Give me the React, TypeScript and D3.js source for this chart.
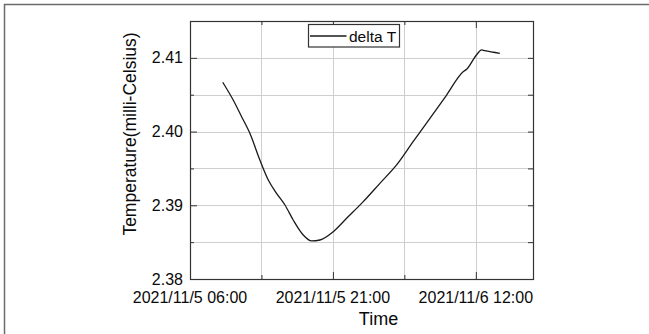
import React, { useRef, useEffect } from 'react';
import * as d3 from 'd3';

// sampled readings of delta T (milli-Celsius)
const times = [
  '2021/11/5 09:26', '2021/11/5 10:32', '2021/11/5 11:25', '2021/11/5 12:17',
  '2021/11/5 13:20', '2021/11/5 14:13', '2021/11/5 15:05', '2021/11/5 15:58',
  '2021/11/5 16:50', '2021/11/5 17:53', '2021/11/5 18:46', '2021/11/5 19:38',
  '2021/11/5 21:02', '2021/11/5 22:26', '2021/11/6 00:11', '2021/11/6 01:56',
  '2021/11/6 03:41', '2021/11/6 05:25', '2021/11/6 07:11', '2021/11/6 08:56',
  '2021/11/6 10:40', '2021/11/6 11:02', '2021/11/6 12:04', '2021/11/6 12:36',
  '2021/11/6 12:56', '2021/11/6 14:31',
];
const deltaT = [
  2.40669, 2.40428, 2.40202, 2.39977,
  2.39614, 2.39343, 2.39163, 2.39004,
  2.38800, 2.38597, 2.38516, 2.38529,
  2.38642, 2.38823, 2.39049, 2.39298,
  2.39547, 2.39863, 2.40180, 2.40496,
  2.40812, 2.40845, 2.41039, 2.41107,
  2.41097, 2.41062,
];

const xTickLabels = ['2021/11/5 06:00', '2021/11/5 21:00', '2021/11/6 12:00'];
const xMinorLabels = ['2021/11/5 13:30', '2021/11/6 04:30'];
const xLimits = ['2021/11/5 06:00', '2021/11/6 18:00'];
const yTicks = [2.38, 2.39, 2.40, 2.41];
const yMinorTicks = [2.385, 2.395, 2.405];
const yLimits = [2.38, 2.415];

const seriesName = 'delta T';
const xTitle = 'Time';
const yTitle = 'Temperature(milli-Celsius)';

const parse = d3.timeParse('%Y/%m/%d %H:%M');

const App = () => {
  const svgRef = useRef<SVGSVGElement>(null);

  useEffect(() => {
    const width = 649;
    const height = 334;
    const margin = { top: 21, right: 116, bottom: 55, left: 190 };
    const innerW = width - margin.left - margin.right;
    const innerH = height - margin.top - margin.bottom;
    const font = 'Arial, "Liberation Sans", sans-serif';
    const ink = '#0a0a0a';

    const root = d3.select(svgRef.current);
    root.selectAll('*').remove();

    // outer frame (top + left edges only)
    root.append('path')
      .attr('d', `M4.5,${height} V4.5 H${width}`)
      .attr('fill', 'none')
      .attr('stroke', '#6b6b6b')
      .attr('stroke-width', 1.5);

    const svg = root.append('g').attr('transform', `translate(${margin.left},${margin.top})`);

    const data = times.map((t, i) => ({ date: parse(t) as Date, value: deltaT[i] }));

    const x = d3.scaleTime()
      .domain(xLimits.map(t => parse(t) as Date))
      .range([0, innerW]);
    const y = d3.scaleLinear().domain(yLimits).range([innerH, 0]);

    const xMajor = xTickLabels.map(t => parse(t) as Date);
    const xMinor = xMinorLabels.map(t => parse(t) as Date);

    // grid
    const grid = svg.append('g').attr('stroke', '#cfcfcf').attr('stroke-width', 1);
    [...xMajor, ...xMinor].forEach(d => {
      const px = Math.round(x(d)) + 0.5;
      if (px > 1 && px < innerW - 1) {
        grid.append('line').attr('x1', px).attr('x2', px).attr('y1', 0).attr('y2', innerH);
      }
    });
    [...yTicks, ...yMinorTicks].forEach(v => {
      const py = Math.round(y(v)) + 0.5;
      if (py > 1 && py < innerH - 1) {
        grid.append('line').attr('x1', 0).attr('x2', innerW).attr('y1', py).attr('y2', py);
      }
    });

    // inward ticks on all four sides
    const tickColor = '#333';
    const styleAxis = (g: any) => {
      g.select('.domain').remove();
      g.selectAll('line').attr('stroke', tickColor);
    };
    svg.append('g').attr('transform', `translate(0,${innerH})`)
      .call(d3.axisBottom(x).tickValues(xMajor).tickSize(-7).tickFormat(() => ''))
      .call(styleAxis);
    svg.append('g').attr('transform', `translate(0,${innerH})`)
      .call(d3.axisBottom(x).tickValues(xMinor).tickSize(-4).tickFormat(() => ''))
      .call(styleAxis);
    svg.append('g')
      .call(d3.axisTop(x).tickValues(xMajor).tickSize(-7).tickFormat(() => ''))
      .call(styleAxis);
    svg.append('g')
      .call(d3.axisTop(x).tickValues(xMinor).tickSize(-4).tickFormat(() => ''))
      .call(styleAxis);
    svg.append('g')
      .call(d3.axisLeft(y).tickValues(yTicks).tickSize(-7).tickFormat(() => ''))
      .call(styleAxis);
    svg.append('g')
      .call(d3.axisLeft(y).tickValues(yMinorTicks).tickSize(-4).tickFormat(() => ''))
      .call(styleAxis);
    svg.append('g').attr('transform', `translate(${innerW},0)`)
      .call(d3.axisRight(y).tickValues(yTicks).tickSize(-5).tickFormat(() => ''))
      .call(styleAxis);
    svg.append('g').attr('transform', `translate(${innerW},0)`)
      .call(d3.axisRight(y).tickValues(yMinorTicks).tickSize(-5).tickFormat(() => ''))
      .call(styleAxis);

    // tick labels
    svg.append('g').selectAll('text')
      .data(xMajor)
      .join('text')
      .attr('x', d => x(d))
      .attr('y', innerH + 23.5)
      .attr('text-anchor', 'middle')
      .attr('font-family', font)
      .attr('font-size', 16)
      .attr('fill', ink)
      .text((d, i) => xTickLabels[i]);

    svg.append('g').selectAll('text')
      .data(yTicks)
      .join('text')
      .attr('x', -7)
      .attr('y', d => y(d) + 5.5)
      .attr('text-anchor', 'end')
      .attr('font-family', font)
      .attr('font-size', 16)
      .attr('fill', ink)
      .text(d => d3.format('.2f')(d));

    // axis titles
    svg.append('text')
      .attr('x', innerW / 2 + 17)
      .attr('y', innerH + 46)
      .attr('text-anchor', 'middle')
      .attr('font-family', font)
      .attr('font-size', 18)
      .attr('fill', ink)
      .text(xTitle);

    svg.append('text')
      .attr('transform', `translate(-54,${innerH / 2 - 16}) rotate(-90)`)
      .attr('text-anchor', 'middle')
      .attr('font-family', font)
      .attr('font-size', 17.5)
      .attr('fill', ink)
      .text(yTitle);

    // data line
    const line = d3.line<{ date: Date; value: number }>()
      .x(d => x(d.date))
      .y(d => y(d.value))
      .curve(d3.curveMonotoneX);

    svg.append('path')
      .datum(data)
      .attr('fill', 'none')
      .attr('stroke', '#1a1a1a')
      .attr('stroke-width', 1.3)
      .attr('d', line);

    // plot frame
    svg.append('rect')
      .attr('x', 0.5).attr('y', 0.5)
      .attr('width', innerW).attr('height', innerH)
      .attr('fill', 'none')
      .attr('stroke', '#333')
      .attr('stroke-width', 1.2);

    // legend
    const legend = svg.append('g').attr('transform', `translate(${118},${3})`);
    legend.append('rect')
      .attr('x', 0.5).attr('y', 0.5)
      .attr('width', 91).attr('height', 22.5)
      .attr('fill', '#fff')
      .attr('stroke', '#333')
      .attr('stroke-width', 1.2);
    legend.append('line')
      .attr('x1', 2).attr('x2', 38.5)
      .attr('y1', 12).attr('y2', 12)
      .attr('stroke', '#1a1a1a')
      .attr('stroke-width', 1.3);
    legend.append('text')
      .attr('x', 41)
      .attr('y', 17.5)
      .attr('font-family', font)
      .attr('font-size', 15.5)
      .attr('fill', ink)
      .text(seriesName);
  }, []);

  return (
    <svg
      ref={svgRef}
      width={649}
      height={334}
      style={{ position: 'absolute', left: 0, top: 0, background: '#fff' }}
    />
  );
};

export default App;
